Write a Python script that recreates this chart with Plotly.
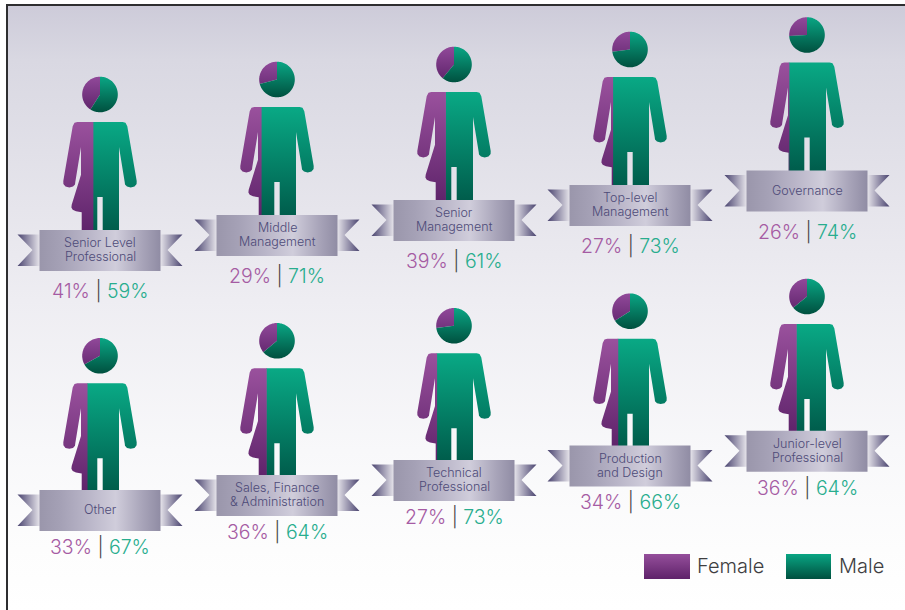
import math
import plotly.graph_objects as go

# ---- data ----
categories = ["Senior Level<br>Professional", "Middle<br>Management", "Senior<br>Management",
              "Top-level<br>Management", "Governance", "Other", "Sales, Finance<br>& Administration",
              "Technical<br>Professional", "Production<br>and Design", "Junior-level<br>Professional"]
female = [41, 29, 39, 27, 26, 33, 36, 27, 34, 36]
male = [59, 71, 61, 73, 74, 67, 64, 73, 66, 64]
series_names = ["Female", "Male"]

# ---- layout of the pictograms (not data) ----
CX = [100, 277, 454, 630, 807, 100, 277, 454, 630, 807]
TOP = [122, 107, 92, 77, 62.5, 383.3, 368.3, 353.3, 338.7, 324]
BANNER_DY = [108] * 5 + [106.7] * 5
PCT_DY = [169] * 5 + [163.5] * 5
W, H = 905, 610
FONT = "Inter"

F_GRAD = ["#9a519d", "#5f246b"]
M_GRAD = ["#09a985", "#005d4c"]
F_HEAD = ["#91499a", "#5c2268"]
M_HEAD = ["#0aa684", "#00503f"]
BANNER = [[0, "#9a96ab"], [0.18, "#a5a1b6"], [0.4, "#b9b5c8"], [0.63, "#d0cddb"], [0.85, "#a8a4b9"], [1, "#908ca4"]]

BODY = [(-22.7, 0), (-25.5, 0.8), (-27.3, 4.3), (-36.7, 59), (-36.6, 62), (-34.5, 64.6), (-30.7, 65.4), (-27, 64.6),
        (-25, 62.5), (-24.7, 60), (-19, 25), (-19, 52.7), (-28.3, 82.7), (-28.6, 85.5), (-27.3, 87.7), (-24, 89.2),
        (-18.3, 90.3), (-18.3, 110), (-2.7, 110), (-2.7, 75), (2.7, 75), (2.7, 110), (19, 110), (19, 25),
        (24.7, 60), (25, 62.5), (27, 64.6), (30.7, 65.4), (34.5, 64.6), (36.6, 62), (36.7, 59), (27.3, 4.3),
        (25.5, 0.8), (22.7, 0)]
BODY_W = 73.4


def clip(points, x0, keep_left):
    out = []
    inside = (lambda p: p[0] <= x0) if keep_left else (lambda p: p[0] >= x0)
    for i, p in enumerate(points):
        q = points[(i + 1) % len(points)]
        if inside(p):
            out.append(p)
        if inside(p) != inside(q):
            t = (x0 - p[0]) / (q[0] - p[0])
            out.append((x0, p[1] + t * (q[1] - p[1])))
    return out


fig = go.Figure()


def poly(points, colors, start, stop, orientation="vertical"):
    xs = [p[0] for p in points] + [points[0][0]]
    ys = [p[1] for p in points] + [points[0][1]]
    if isinstance(colors[0], str):
        colors = [[0, colors[0]], [1, colors[1]]]
    fig.add_trace(go.Scatter(x=xs, y=ys, mode="none", fill="toself", hoverinfo="skip", showlegend=False,
                             fillgradient=dict(type=orientation, colorscale=colors, start=start, stop=stop)))


def wedge(cx, cy, r, a0, a1):
    n = max(2, int(abs(a1 - a0) / 3))
    pts = [(cx, cy)]
    for i in range(n + 1):
        a = math.radians(a0 + (a1 - a0) * i / n)
        pts.append((cx + r * math.sin(a), cy - r * math.cos(a)))
    return pts


# background panel
poly([(7, 5), (W, 5), (W, H), (7, H)],
     [[0, "#cdcbd9"], [0.092, "#d9d8e2"], [0.488, "#eeedf2"], [0.736, "#f8f8fa"], [0.9, "#fdfdfd"], [1, "#ffffff"]],
     5, H)
fig.add_trace(go.Scatter(x=[7, 7, W], y=[H, 5, 5], mode="lines", hoverinfo="skip", showlegend=False,
                         line=dict(color="#2e2e30", width=2)))

ann = []
RAD = 17.8
for label, f, m, cx, top, bdy, pdy in zip(categories, female, male, CX, TOP, BANNER_DY, PCT_DY):
    # head: pie of the two shares
    cy = top - 27.5
    split = f / (f + m) * 360
    poly(wedge(cx, cy, RAD, split * -1, 0), F_HEAD, cy - RAD, cy + RAD)
    poly(wedge(cx, cy, RAD, 0, 360 - split), M_HEAD, cy - RAD, cy + RAD)
    # body: split at the female share of its width
    body = [(cx + dx, top + dy) for dx, dy in BODY]
    xs = cx - BODY_W / 2 + BODY_W * f / (f + m)
    poly(clip(body, xs - 0.6, False), M_GRAD, top, top + bdy)
    poly(clip(body, xs, True), F_GRAD, top, top + bdy)
    # ribbon
    by0, by1 = top + bdy, top + bdy + 41
    for sign in (-1, 1):
        pts = [(cx + sign * 82.5, by0 + 4.6), (cx + sign * 67.5, by0 + 20), (cx + sign * 82.5, by0 + 36),
               (cx + sign * 60, by0 + 36), (cx + sign * 60, by0 + 4.6)]
        a, b = sorted((cx + sign * 60, cx + sign * 82.5))
        cols = ["#e8e6ec", "#49436f"] if sign > 0 else ["#49436f", "#e8e6ec"]
        poly(pts, cols, a, b, "horizontal")
    poly([(cx - 60.5, by0), (cx + 60.5, by0), (cx + 60.5, by1), (cx - 60.5, by1)], BANNER, cx - 60.5, cx + 60.5,
         "horizontal")
    lines = label.split("<br>")
    mid = (by0 + by1) / 2 - 0.8
    for i, line in enumerate(lines):
        ann.append(dict(x=cx, y=mid + (i - (len(lines) - 1) / 2) * 14, text=line, xanchor="center", yanchor="middle",
                        font=dict(family=FONT, size=12.5, color="#4d4a78", weight=300), showarrow=False,
                        opacity=0.99))
    ann.append(dict(x=cx, y=top + pdy,
                    text=f'<span style="color:#a55aa3">{f}%</span>'
                         f' <span style="color:#444444">|</span> '
                         f'<span style="color:#26ad8d">{m}%</span>',
                    xanchor="center", yanchor="middle", showarrow=False, opacity=0.99,
                    font=dict(family=FONT, size=19.5, weight=300)))

# legend
poly([(644, 554), (690, 554), (690, 579), (644, 579)], ["#954f9b", "#5f226a"], 554, 579)
poly([(786, 554), (831, 554), (831, 579), (786, 579)], ["#09a583", "#00503f"], 554, 579)
for name, x in zip(series_names, [694.5, 836.5]):
    ann.append(dict(x=x, y=566, text=name, xanchor="left", yanchor="middle", showarrow=False, opacity=0.99,
                    font=dict(family=FONT, size=20, color="#3c3c3e", weight=300)))

fig.update_layout(width=W, height=H, margin=dict(l=0, r=0, t=0, b=0), paper_bgcolor="#ffffff", plot_bgcolor="#ffffff",
                  showlegend=False, annotations=ann,
                  xaxis=dict(range=[0, W], visible=False, fixedrange=True),
                  yaxis=dict(range=[H, 0], visible=False, fixedrange=True))
fig.write_html("out.html", config={"displayModeBar": False},
               post_script="document.body.style.margin='0';document.body.style.overflow='hidden';")
